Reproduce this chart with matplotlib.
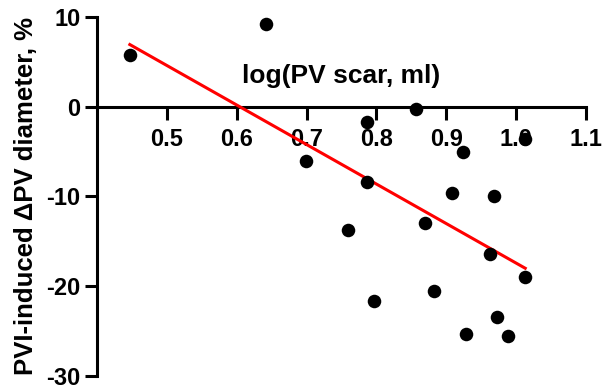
import numpy as np
import matplotlib
matplotlib.use("Agg")
import matplotlib.pyplot as plt

plt.rcParams['font.family'] = ['Liberation Sans', 'DejaVu Sans']
plt.rcParams['font.weight'] = 'bold'
plt.rcParams['axes.unicode_minus'] = False

# log(PV scar, ml) vs PVI-induced change of PV diameter (%)
log_scar = [0.447, 0.642, 0.857, 0.787, 0.924, 1.013, 0.699, 0.787, 0.908, 0.969,
            0.760, 0.870, 0.962, 1.012, 0.883, 0.797, 0.972, 0.928, 0.989]
d_diam = [5.8, 9.2, -0.3, -1.75, -5.0, -3.6, -6.1, -8.4, -9.6, -9.9,
          -13.7, -13.0, -16.4, -19.0, -20.5, -21.6, -23.4, -25.3, -25.5]

x = np.array(log_scar)
y = np.array(d_diam)

fig = plt.figure(figsize=(6.04, 3.9), dpi=100)
ax = fig.add_axes([0.1606, 0.036, 0.8096, 0.9205])

# linear fit
slope, intercept = np.polyfit(x, y, 1)
xf = np.array([x.min(), x.max()])
ax.plot(xf, slope * xf + intercept, color='#ff0000', lw=2.2, zorder=3)

ax.scatter(x, y, s=95, color='black', zorder=4, clip_on=False, linewidths=0)

ax.set_xlim(0.4, 1.1)
ax.set_ylim(-30, 10)
ax.set_xticks([0.5, 0.6, 0.7, 0.8, 0.9, 1.0, 1.1])
ax.set_yticks([-30, -20, -10, 0, 10])

ax.spines['top'].set_visible(False)
ax.spines['right'].set_visible(False)
ax.spines['bottom'].set_position(('data', 0))
for s in ['left', 'bottom']:
    ax.spines[s].set_linewidth(2.2)

ax.tick_params(axis='both', width=2.2, length=9, labelsize=17, direction='out')
ax.tick_params(axis='x', pad=6)
ax.tick_params(axis='y', pad=3)

ax.set_xlabel('log(PV scar, ml)', fontsize=19, fontweight='bold')
ax.xaxis.set_label_coords(0.5, 0.87)
ax.set_ylabel('PVI-induced ΔPV diameter, %', fontsize=18.5, fontweight='bold', labelpad=6)

fig.savefig('out.png', dpi=100)
